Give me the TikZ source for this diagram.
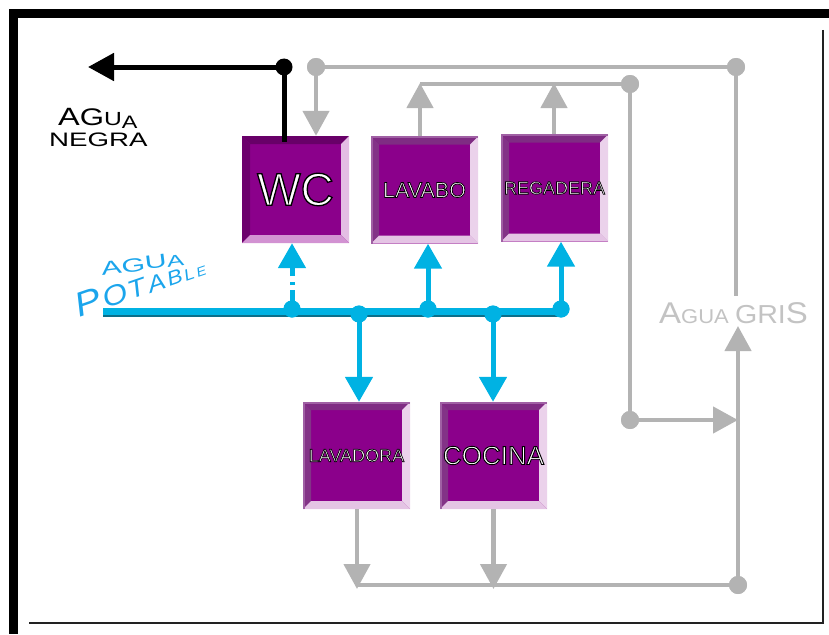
\documentclass[tikz,border=0pt]{standalone}
\usepackage{fontspec}
\setmainfont{Liberation Sans}
\usepackage{graphicx}
\usetikzlibrary{arrows.meta,calc}

\definecolor{face}{HTML}{8B008B}
\definecolor{wctop}{HTML}{680068}
\definecolor{wcleft}{HTML}{6C006C}
\definecolor{wcright}{HTML}{E4BDE4}
\definecolor{wcbottom}{HTML}{D292D2}
\definecolor{bxtop}{HTML}{7F2C83}
\definecolor{bxleft}{HTML}{833387}
\definecolor{bxright}{HTML}{EBD2EB}
\definecolor{bxbottom}{HTML}{E4C4E4}
\definecolor{bxrim}{HTML}{A060A4}
\definecolor{pipeblue}{HTML}{00B2E3}
\definecolor{pipedark}{HTML}{0B6F8A}
\definecolor{pipegray}{HTML}{B3B3B3}
\definecolor{txtblue}{HTML}{1BA5EC}
\definecolor{txtgray}{HTML}{C3C3C3}
\definecolor{framegray}{HTML}{222222}

% bevelled edges of a box, drawn under the label
\newcommand\bevelfill[4]{%
  \fill[#1] (path picture bounding box.north west) -- (path picture bounding box.north east)
    -- ($(path picture bounding box.north east)+(-8,8)$) -- ($(path picture bounding box.north west)+(8,8)$) -- cycle;
  \fill[#2] (path picture bounding box.north west) -- ($(path picture bounding box.north west)+(8,8)$)
    -- ($(path picture bounding box.south west)+(8,-8)$) -- (path picture bounding box.south west) -- cycle;
  \fill[#3] (path picture bounding box.north east) -- (path picture bounding box.south east)
    -- ($(path picture bounding box.south east)+(-8,-8)$) -- ($(path picture bounding box.north east)+(-8,8)$) -- cycle;
  \fill[#4] (path picture bounding box.south west) -- (path picture bounding box.south east)
    -- ($(path picture bounding box.south east)+(-8,-8)$) -- ($(path picture bounding box.south west)+(8,-8)$) -- cycle;
}
% lighter outer rim on the upper and left edges
\newcommand\rimfill[1]{%
  \draw[#1, line width=3pt] (path picture bounding box.south west) -- (path picture bounding box.north west)
    -- (path picture bounding box.north east);
}
% white label with a thin black stroked outline (text render mode 2)
\newcommand\boxlabel[3]{\fontsize{#1}{#1}\selectfont\color{white}%
  \special{pdf:literal direct 2 Tr 0 G #2 w}#3\special{pdf:literal direct 0 Tr}}

\begin{document}
\begin{tikzpicture}[x=1pt,y=-1pt,
  box/.style={rectangle, minimum width=107pt, minimum height=107pt, inner sep=0pt, fill=face},
  wcbox/.style={box, path picture={\bevelfill{wctop}{wcleft}{wcright}{wcbottom}}},
  fixbox/.style={box, path picture={\bevelfill{bxtop}{bxleft}{bxright}{bxbottom}\rimfill{bxrim}}},
  bpipe/.style={line width=5pt, draw=pipeblue},
  barrow/.style={bpipe, -{Triangle[width=27pt,length=25pt]}},
  gpipe/.style={line width=4.5pt, draw=pipegray},
  garrow/.style={gpipe, -{Triangle[width=26pt,length=25pt]}},
  kpipe/.style={line width=5pt, draw=black},
  karrow/.style={kpipe, -{Triangle[width=27pt,length=26pt]}},
  bdot/.style={circle, fill=pipeblue, minimum size=17pt, inner sep=0pt},
  gdot/.style={circle, fill=pipegray, minimum size=18pt, inner sep=0pt},
  kdot/.style={circle, fill=black, minimum size=17pt, inner sep=0pt},
  lbl/.style={anchor=base west, inner sep=0pt}
]
\useasboundingbox (0,0) rectangle (829,634);

% frame
\fill[black] (9,9) rectangle (829,18);
\fill[black] (9,9) rectangle (18,634);
\draw[line width=1.5pt, framegray] (823,30) -- (823,623) -- (29,623);

% fixtures
\node[wcbox]  (wc)       at (295.5,189.5) {\boxlabel{46}{1.3}{WC}};
\node[fixbox] (lavabo)   at (424.5,190)   {\boxlabel{21.5}{0.75}{LAVABO}};
\node[fixbox] (regadera) at (554.5,188)   {\boxlabel{18}{0.65}{REGADERA}};
\node[fixbox] (lavadora) at (356.5,455.5) {\boxlabel{18}{0.65}{LAVADORA}};
\node[fixbox] (cocina)   at (493.5,455.5) {\boxlabel{26}{0.9}{COCINA}};

% drinking water supply
\coordinate (p0) at (103,312);
\coordinate (p1) at (561,312);
\draw[line width=9pt, pipeblue] (p0) -- (p1);
\draw[line width=2pt, pipedark] ($(p0)+(0,3.5)$) -- ($(p1)+(0,3.5)$);
\node[bdot] (b1) at (292,309) {};
\node[bdot] (b2) at (359,314) {};
\node[bdot] (b3) at (428,309) {};
\node[bdot] (b4) at (493,314) {};
\node[bdot] (b5) at (561,309) {};
\draw[barrow, dash pattern=on 19pt off 5pt on 3pt off 6pt on 100pt] (b1.center) -- (wc.south -| b1);
\draw[barrow] (b3.center) -- (lavabo.south -| b3);
\draw[barrow] (b5.center) -- (regadera.south -| b5);
\draw[barrow] (b2.center) -- (lavadora.north -| b2);
\draw[barrow] (b4.center) -- (cocina.north -| b4);
\foreach \n in {b1,b2,b3,b4,b5} \node[bdot] at (\n) {};

% grey water
\coordinate (t1) at (420,84);
\coordinate (t2) at (554,84);
\coordinate (gend) at (736,296);
\coordinate (gtip) at (738,326);
\coordinate (bl) at (357,585);
\node[gdot] (g1) at (316,67) {};
\node[gdot] (g2) at (736,67) {};
\node[gdot] (g3) at (630,84) {};
\node[gdot] (g4) at (630,420) {};
\node[gdot] (g5) at (738,585) {};
\draw[gpipe] (g1.center) -- (g2.center) -- (gend);
\draw[garrow] (g1.center) -- (wc.north -| g1);
\draw[garrow] (lavabo.north -| t1) -- ($(t1)+(0,-1)$);
\draw[garrow] (regadera.north -| t2) -- ($(t2)+(0,-1)$);
\draw[gpipe] (t1) -- (g3.center) -- (g4.center);
\draw[garrow] (g4.center) -- (g4.center -| g5);
\draw[garrow] (lavadora.south -| bl) -- ($(bl)+(0,4)$);
\draw[garrow] (cocina.south) -- ($(cocina.south |- bl)+(0,4)$);
\draw[gpipe] (bl) -- (g5.center);
\draw[garrow] (g5.center) -- (gtip);
\foreach \n in {g1,g2,g3,g4,g5} \node[gdot] at (\n) {};

% black water
\coordinate (kout) at (88,67);
\node[kdot] (k1) at (284,67) {};
\draw[kpipe] ($(wc.north -| k1)+(0,6)$) -- (k1.center);
\draw[karrow] (k1.center) -- (kout);

% labels
\node[lbl] (aguan) at (58,125)
  {\scalebox{1.3}[1]{\fontsize{25}{25}\selectfont A\fontsize{24}{24}\selectfont G\fontsize{19}{19}\selectfont U\raisebox{-3pt}{\fontsize{18}{18}\selectfont A}}};
\node[lbl] (negra) at (49,146) {\scalebox{1.42}[1]{\fontsize{19.5}{20}\selectfont NEGRA}};
\node[lbl, txtblue, rotate=7] (aguap) at (102,276)
  {\scalebox{1.6}[1]{\fontsize{19}{19}\selectfont A\raisebox{0.5pt}{G}\raisebox{1pt}{U}\fontsize{16}{16}\selectfont A}};
\node[lbl, txtblue, rotate=19] (potable) at (79,318)
  {\itshape\scalebox{1.15}[1]{\fontsize{34}{34}\selectfont P\kern2pt\fontsize{28}{28}\selectfont O\kern2pt\fontsize{25}{25}\selectfont T\kern2pt\fontsize{23}{23}\selectfont A\kern2pt\fontsize{20}{20}\selectfont B\kern2pt\fontsize{16}{16}\selectfont L\kern2pt\fontsize{13}{13}\selectfont E}};
\node[lbl, txtgray] (gris) at (659,323)
  {\scalebox{1.1}[1]{\fontsize{30}{30}\selectfont A\fontsize{20}{20}\selectfont GUA \fontsize{26}{26}\selectfont GRI\fontsize{30}{30}\selectfont S}};
\end{tikzpicture}
\end{document}
